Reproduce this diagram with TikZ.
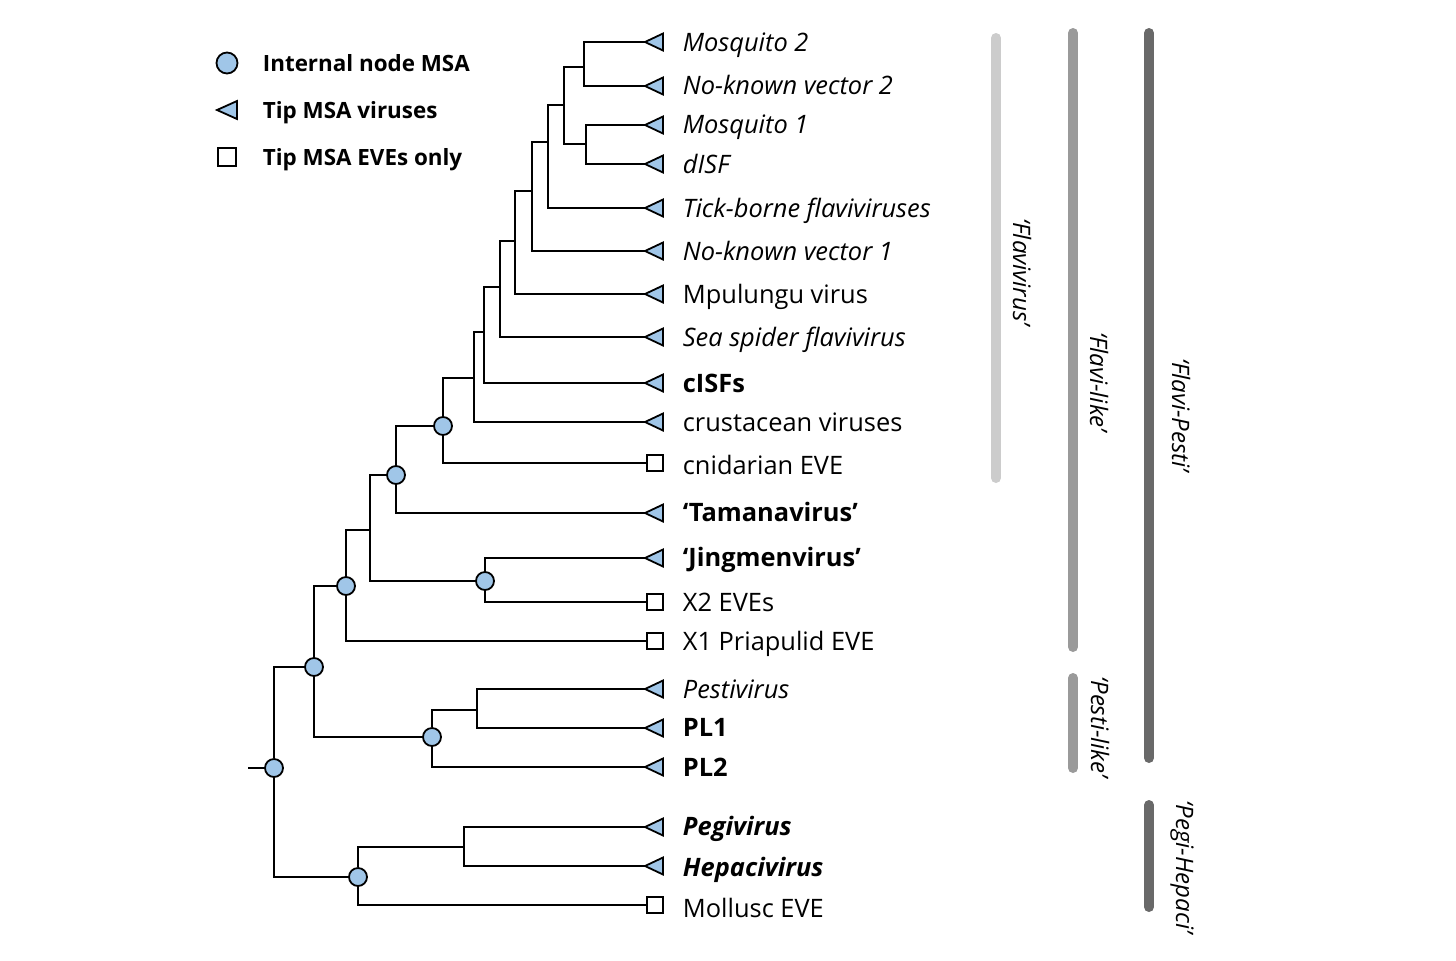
\documentclass[tikz,border=0pt]{standalone}
\usepackage{fontspec}
\setmainfont{Open Sans}
\definecolor{nodeblue}{RGB}{160,198,232}
\definecolor{barA}{RGB}{204,204,204}
\definecolor{barB}{RGB}{154,154,154}
\definecolor{barC}{RGB}{105,105,105}
\begin{document}
\begin{tikzpicture}[x=0.5pt,y=-0.5pt,line width=0.9pt,
  inode/.style={circle,draw,fill=nodeblue,inner sep=0pt,minimum size=9pt},
  lnode/.style={circle,draw,fill=nodeblue,inner sep=0pt,minimum size=10.5pt},
  lab/.style={anchor=west,inner sep=0pt,text height=9pt,text depth=0pt,font=\fontsize{12.7}{15}\selectfont},
  leg/.style={anchor=west,inner sep=0pt,text height=8pt,text depth=0pt,font=\fontsize{11.2}{13}\selectfont\bfseries},
  grp/.style={rotate=-90,inner sep=0pt,font=\fontsize{12}{14}\selectfont\itshape},
  bar/.style={line width=5pt,line cap=round},
  tri/.pic={\draw[fill=nodeblue,line join=miter] (0,0) -- (18,-8.5) -- (18,8.5) -- cycle;},
  ltri/.pic={\draw[fill=nodeblue,line join=miter] (0,0) -- (20,-9) -- (20,9) -- cycle;},
  sq/.pic={\draw[fill=white] (0,-8) rectangle (16,8);},
  lsq/.pic={\draw[fill=white] (0,-9) rectangle (18,9);}]
\useasboundingbox (0,0) rectangle (1456,960);

% legend
\node[lnode] (legc) at (227,63) {};
\node[leg] (legct) at (262,63) {Internal node MSA};
\coordinate (legtri) at (217,110); \pic at (legtri) {ltri};
\node[leg] (legtt) at (262,110) {Tip MSA viruses};
\coordinate (legsq) at (218,157); \pic at (legsq) {lsq};
\node[leg] (legst) at (262,157) {Tip MSA EVEs only};

% tips
\newcommand\tipT[4]{\coordinate (#1) at (645,#2); \pic at (#1) {tri}; \node[lab] (#1l) at (682,#3) {#4};}
\newcommand\tipS[4]{\coordinate (#1) at (647,#2); \pic at (#1) {sq}; \node[lab] (#1l) at (682,#3) {#4};}
\tipT{m2}{42}{42}{\itshape Mosquito 2}
\tipT{nk2}{86}{85}{\itshape No-known vector 2}
\tipT{m1}{125}{124}{\itshape Mosquito 1}
\tipT{disf}{164}{164}{\itshape dISF}
\tipT{tick}{208}{208}{\itshape Tick-borne flaviviruses}
\tipT{nk1}{251}{251}{\itshape No-known vector 1}
\tipT{mpu}{294}{294}{Mpulungu virus}
\tipT{sea}{337}{337}{\itshape Sea spider flavivirus}
\tipT{cisf}{383}{383}{\bfseries cISFs}
\tipT{crus}{422}{422}{crustacean viruses}
\tipS{cnid}{463}{465}{cnidarian EVE}
\tipT{tam}{513}{512}{\bfseries ‘Tamanavirus’}
\tipT{jing}{558}{557}{\bfseries ‘Jingmenvirus’}
\tipS{xtwo}{602}{602}{X2 EVEs}
\tipS{xone}{641}{641}{X1 Priapulid EVE}
\tipT{pest}{689}{689}{\itshape Pestivirus}
\tipT{plone}{728}{727}{\bfseries PL1}
\tipT{pltwo}{767}{767}{\bfseries PL2}
\tipT{pegi}{827}{826}{\bfseries\itshape Pegivirus}
\tipT{hep}{866}{867}{\bfseries\itshape Hepacivirus}
\tipS{moll}{905}{908}{Mollusc EVE}

% internal nodes
\coordinate (n1) at (584,67);
\coordinate (n2) at (586,144);
\coordinate (n3) at (564,105);
\coordinate (n4) at (548,142);
\coordinate (n5) at (532,191);
\coordinate (n6) at (515,241);
\coordinate (n7) at (500,287);
\coordinate (n8) at (484,332);
\coordinate (n9) at (474,378);
\node[inode] (c10) at (443,426) {};
\node[inode] (c11) at (396,475) {};
\coordinate (n12) at (370,530);
\node[inode] (c13) at (485,581) {};
\node[inode] (c14) at (346,586) {};
\node[inode] (c15) at (314,667) {};
\node[inode] (c16) at (432,737) {};
\coordinate (n17) at (477,710);
\node[inode] (root) at (274,768) {};
\node[inode] (c18) at (358,877) {};
\coordinate (n19) at (464,847);
\coordinate (stub) at (248,768);

% branches
\draw (n1) |- (m2);  \draw (n1) |- (nk2);
\draw (n2) |- (m1);  \draw (n2) |- (disf);
\draw (n3) |- (n1);  \draw (n3) |- (n2);
\draw (n4) |- (n3);  \draw (n4) |- (tick);
\draw (n5) |- (n4);  \draw (n5) |- (nk1);
\draw (n6) |- (n5);  \draw (n6) |- (mpu);
\draw (n7) |- (n6);  \draw (n7) |- (sea);
\draw (n8) |- (n7);  \draw (n8) |- (cisf);
\draw (n9) |- (n8);  \draw (n9) |- (crus);
\draw (c10) |- (n9); \draw (c10) |- (cnid);
\draw (c11) |- (c10); \draw (c11) |- (tam);
\draw (n12) |- (c11); \draw (n12) |- (c13);
\draw (c13) |- (jing); \draw (c13) |- (xtwo);
\draw (c14) |- (n12); \draw (c14) |- (xone);
\draw (c15) |- (c14); \draw (c15) |- (c16);
\draw (n17) |- (pest); \draw (n17) |- (plone);
\draw (c16) |- (n17); \draw (c16) |- (pltwo);
\draw (root) |- (c15); \draw (root) |- (c18);
\draw (n19) |- (pegi); \draw (n19) |- (hep);
\draw (c18) |- (n19); \draw (c18) |- (moll);
\draw (stub) -- (root);

% group bars
\draw[bar,barA] (996,38) -- (996,478);
\draw[bar,barB] (1073,33) -- (1073,647);
\draw[bar,barB] (1073,678) -- (1073,768);
\draw[bar,barC] (1149,33) -- (1149,758);
\draw[bar,barC] (1149,805) -- (1149,907);
\node[grp] (gflv) at (1022,272) {‘Flavivirus’};
\node[grp] (gfll) at (1099,382) {‘Flavi-like’};
\node[grp] (gfp) at (1181,415) {‘Flavi-Pesti’};
\node[grp] (gpl) at (1100,727) {‘Pesti-like’};
\node[grp] (gph) at (1182,867) {‘Pegi-Hepaci’};
\end{tikzpicture}
\end{document}
